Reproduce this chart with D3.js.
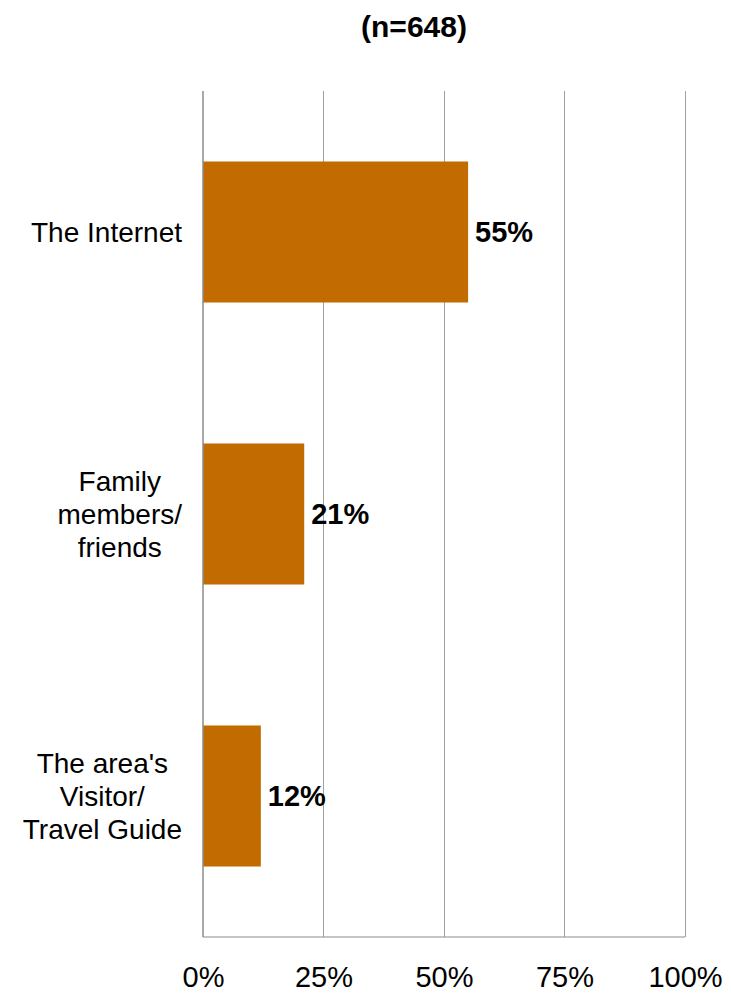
<!DOCTYPE html>
<html><head><meta charset="utf-8">
<script src="https://cdn.jsdelivr.net/npm/d3@7"></script>
<style>body{margin:0;background:#fff}svg{display:block;font-family:"Liberation Sans",Arial,sans-serif}</style>
</head><body><svg id="c" width="731" height="994"></svg>
<script>
const categories = [["The Internet"], ["Family", "members/", "friends"], ["The area's", "Visitor/", "Travel Guide"]];
const values = [55, 21, 12];
const tickValues = [0, 25, 50, 75, 100];
const title = "(n=648)";

const svg = d3.select("#c");
const m = {left: 203, right: 685, top: 91, bottom: 937};
const x = d3.scaleLinear().domain([0, 100]).range([m.left, m.right]);
const y = d3.scaleBand().domain(d3.range(categories.length)).range([m.top, m.bottom]).paddingInner(0.5).paddingOuter(0.25);

// gridlines
svg.append("g").selectAll("line").data(tickValues.slice(1)).join("line")
  .attr("x1", d => x(d)).attr("x2", d => x(d)).attr("y1", m.top).attr("y2", m.bottom)
  .attr("stroke", "#a0a0a0").attr("stroke-width", 1).attr("shape-rendering", "crispEdges");

// bars
svg.append("g").selectAll("rect").data(values).join("rect")
  .attr("x", x(0)).attr("y", (d, i) => y(i)).attr("width", d => x(d) - x(0)).attr("height", y.bandwidth())
  .attr("fill", "#c26b00");

// axes lines
svg.append("line").attr("x1", m.left).attr("x2", m.left).attr("y1", m.top).attr("y2", m.bottom)
  .attr("stroke", "#8c8c8c").attr("stroke-width", 1.5);
svg.append("line").attr("x1", m.left).attr("x2", m.right).attr("y1", m.bottom).attr("y2", m.bottom)
  .attr("stroke", "#8c8c8c").attr("stroke-width", 1.2);

// x tick labels
const xAxis = d3.axisBottom(x).tickValues(tickValues).tickFormat(d => d + "%").tickSize(0).tickPadding(0);
const ax = svg.append("g").attr("transform", `translate(0,${m.bottom})`).call(xAxis);
ax.select(".domain").remove();
ax.selectAll("text").attr("font-size", 29).attr("fill", "#000").attr("font-family", "Liberation Sans, Arial, sans-serif")
  .attr("dy", null).attr("y", 50);

// value labels
svg.append("g").selectAll("text").data(values).join("text")
  .attr("x", d => x(d) + 7).attr("y", (d, i) => y(i) + y.bandwidth() / 2)
  .attr("dy", "0.35em").attr("font-size", 29).attr("font-weight", "bold").attr("fill", "#000")
  .text(d => d + "%");

// category labels
const lineH = 33;
const rightEdge = 182;
categories.forEach((lines, i) => {
  const g = svg.append("text").attr("font-size", 28).attr("fill", "#000").attr("text-anchor", "middle");
  const cy = y(i) + y.bandwidth() / 2;
  const spans = g.selectAll("tspan").data(lines).join("tspan").text(d => d);
  let maxW = 0;
  spans.each(function(){ maxW = Math.max(maxW, this.getComputedTextLength()); });
  const cx = rightEdge - maxW / 2;
  spans.attr("x", cx).attr("y", (d, k) => cy + (k - (lines.length - 1) / 2) * lineH).attr("dy", "0.35em");
});

// title
svg.append("text").attr("x", 414).attr("y", 37).attr("text-anchor", "middle")
  .attr("font-size", 30).attr("font-weight", "bold").text(title);
</script></body></html>
